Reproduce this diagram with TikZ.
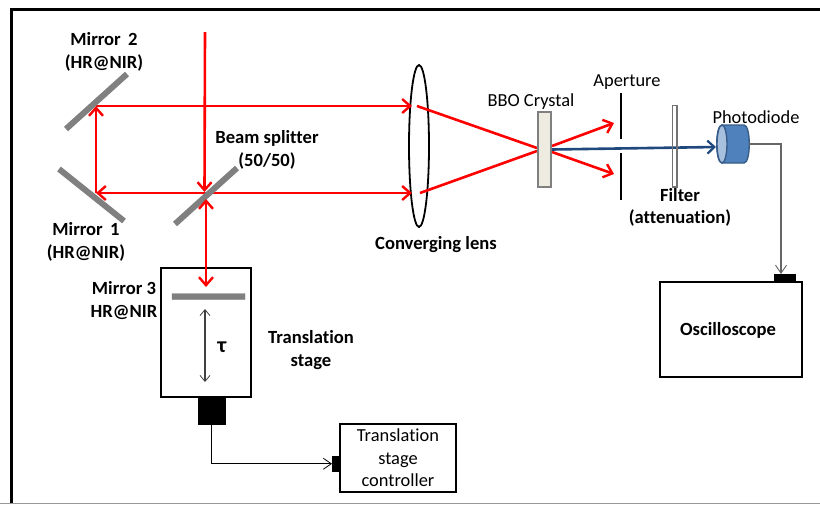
\documentclass[tikz,border=0pt]{standalone}
\usepackage{fontspec}
\setmainfont[RawFeature={-liga}]{Carlito}
\usetikzlibrary{arrows.meta}
\definecolor{beamred}{RGB}{255,0,0}
\definecolor{mirrorgray}{RGB}{128,128,128}
\definecolor{bluebeam}{RGB}{31,73,125}
\definecolor{pdfill}{RGB}{79,129,189}
\definecolor{pdline}{RGB}{56,93,138}
\definecolor{pdface}{RGB}{167,192,222}
\definecolor{crystalfill}{RGB}{238,236,225}
\tikzset{
  x=1pt,y=-1pt,
  beam/.style={draw=beamred,line width=2.6pt,-{Straight Barb[length=8pt,width=14pt,line width=2.4pt]}},
  beamplain/.style={draw=beamred,line width=2.6pt},
  bluearrow/.style={draw=bluebeam,line width=2.6pt,-{Straight Barb[length=7pt,width=13pt,line width=2.2pt]}},
  mirror/.style={draw=mirrorgray,line width=6pt},
  wire/.style={draw=black,line width=1pt,-{Straight Barb[length=8pt,width=11pt,line width=0.8pt]}},
  graywire/.style={draw=black!60,line width=1.2pt,-{Straight Barb[length=8pt,width=11pt,line width=0.9pt]}},
  box/.style={draw=black,line width=2.2pt,fill=white,rectangle,inner sep=0pt},
  tab/.style={draw=black,fill=black,rectangle,inner sep=0pt,line width=0.5pt},
  lab/.style={align=center,inner sep=0pt,font=\fontsize{18.6}{22.5}\selectfont\bfseries},
  labreg/.style={align=center,inner sep=0pt,font=\fontsize{18.4}{22.5}\selectfont},
  stopline/.style={draw=black,line width=1.7pt}
}
\newcommand{\boxat}[6]{\node[#1,minimum width=#5-#3,minimum height=#6-#4,anchor=north west] (#2) at (#3,#4) {};}
\begin{document}
\begin{tikzpicture}
\useasboundingbox (0,0) rectangle (820,504);
\fill[white] (0,0) rectangle (820,504);
% outer frame
\draw[black,line width=3pt] (11,504) -- (11,9) -- (820,9);
\draw[black!40,line width=1.6pt] (0,503.3) -- (820,503.3);
% points on the beam path
\coordinate (in) at (205,32);
\coordinate (bs) at (205,193);
\coordinate (mo) at (96,193);
\coordinate (mt) at (96,106);
\coordinate (lt) at (412,106);
\coordinate (lb) at (412,193);
\coordinate (lto) at (417,106);
\coordinate (lbo) at (420,193);
\coordinate (cxt) at (537,148);
\coordinate (cxb) at (537,151);
\coordinate (cot) at (552,146);
\coordinate (cob) at (552,152);
\coordinate (upt) at (614,123);
\coordinate (upb) at (614,174);
\coordinate (cb) at (552,149.5);
% lens
\draw[black,line width=1.8pt] (419,146) ellipse [x radius=10,y radius=81];
% beams
\draw[beam] (mt) -- (lt);
\draw[beam] (bs) -- (lb);
\draw[beam] (in) -- (204.5,192);
\draw[beam] (bs) -- (mo);
\draw[beam] (mo) -- (mt);
\draw[beamplain] (lto) -- (cxt);
\draw[beamplain] (lbo) -- (cxb);
\draw[beam] (cot) -- (upt);
\draw[beam] (cob) -- (upb);
% mirrors
\draw[mirror] (66,129) coordinate (m2a) -- (127,74) coordinate (m2b);
\draw[mirror] (59,169) coordinate (m1a) -- (124,221) coordinate (m1b);
\draw[mirror] (175,224) coordinate (bsa) -- (237,168) coordinate (bsb);
% stage
\boxat{box}{stage}{160}{267}{250}{396}
\boxat{tab}{motor}{198}{396}{225}{424}
\draw[draw=mirrorgray,fill=mirrorgray,rounded corners=0.5pt] (172,293.5) rectangle (245,299.5);
\draw[beam] (206,240) -- (206,287);
\draw[beam] (206,240) -- (206,199);
\coordinate (tautop) at (205,309);
\coordinate (taubot) at (205,382);
\draw[draw=black!75,line width=1.1pt,{Straight Barb[length=6pt,width=10pt,line width=0.8pt]}-{Straight Barb[length=6pt,width=10pt,line width=0.8pt]}] (tautop) -- (taubot);
% crystal, aperture, filter
\draw[draw=black!50,fill=crystalfill,line width=1.8pt] (538,112) rectangle (551,187);
\coordinate (a1) at (621,93); \coordinate (a2) at (621,139);
\coordinate (a3) at (621,153); \coordinate (a4) at (621,200);
\draw[stopline] (a1) -- (a2);
\draw[stopline] (a3) -- (a4);
% photodiode
\draw[draw=pdline,fill=pdfill,line width=1.4pt] (722,125) -- (744,125) .. controls (751,125) and (751,163) .. (744,163) -- (722,163) .. controls (715,163) and (715,125) .. (722,125) -- cycle;
\draw[draw=pdline,fill=pdface,line width=1.4pt] (722,144) ellipse [x radius=5,y radius=19];
\coordinate (pdin) at (716,147);
\coordinate (pdout) at (749,144);
% blue beam and filter
\draw[bluearrow] (cb) -- (pdin);
\draw[draw=black!55,line width=1.6pt] (672.5,105.5) rectangle (677,187);
% oscilloscope
\boxat{tab}{osctab}{773.5}{274}{795}{281}
\boxat{box}{osc}{659}{281}{801}{376}
\coordinate (corner) at (781,144);
\draw[graywire] (pdout) -- (corner) -- (corner |- osctab.north);
% controller
\boxat{box}{ctrl}{339}{423}{455}{491}
\boxat{tab}{ctrltab}{332}{456}{339.5}{471}
\draw[wire] (211,424) |- (ctrltab.west);
% labels
\node[lab] (lm2) at (104,52) {Mirror\, 2\\(HR@NIR)};
\node[lab] (lm1) at (86,242) {Mirror\, 1\\(HR@NIR)};
\node[lab] (lbs) at (267,150) {Beam splitter\\(50/50)};
\node[lab] (lcl) at (436,245) {Converging lens};
\node[labreg] (lbbo) at (531,102) {BBO Crystal};
\node[labreg] (lap) at (627,82) {Aperture};
\node[labreg] (lpd) at (756,117) {Photodiode};
\node[lab] (lfi) at (680,207.5) {Filter\\(attenuation)};
\node[lab] (lm3) at (124,300.5) {Mirror 3\\HR@NIR};
\node[lab] (ltr) at (311,350) {Translation\\stage};
\node[lab,font=\fontsize{22}{22}\selectfont\bfseries] (ltau) at (222,347) {τ};
\node[labreg] (lctrl) at (398,458) {Translation\\stage\\controller};
\node[lab] (losc) at (728,330) {Oscilloscope};
\end{tikzpicture}
\end{document}
